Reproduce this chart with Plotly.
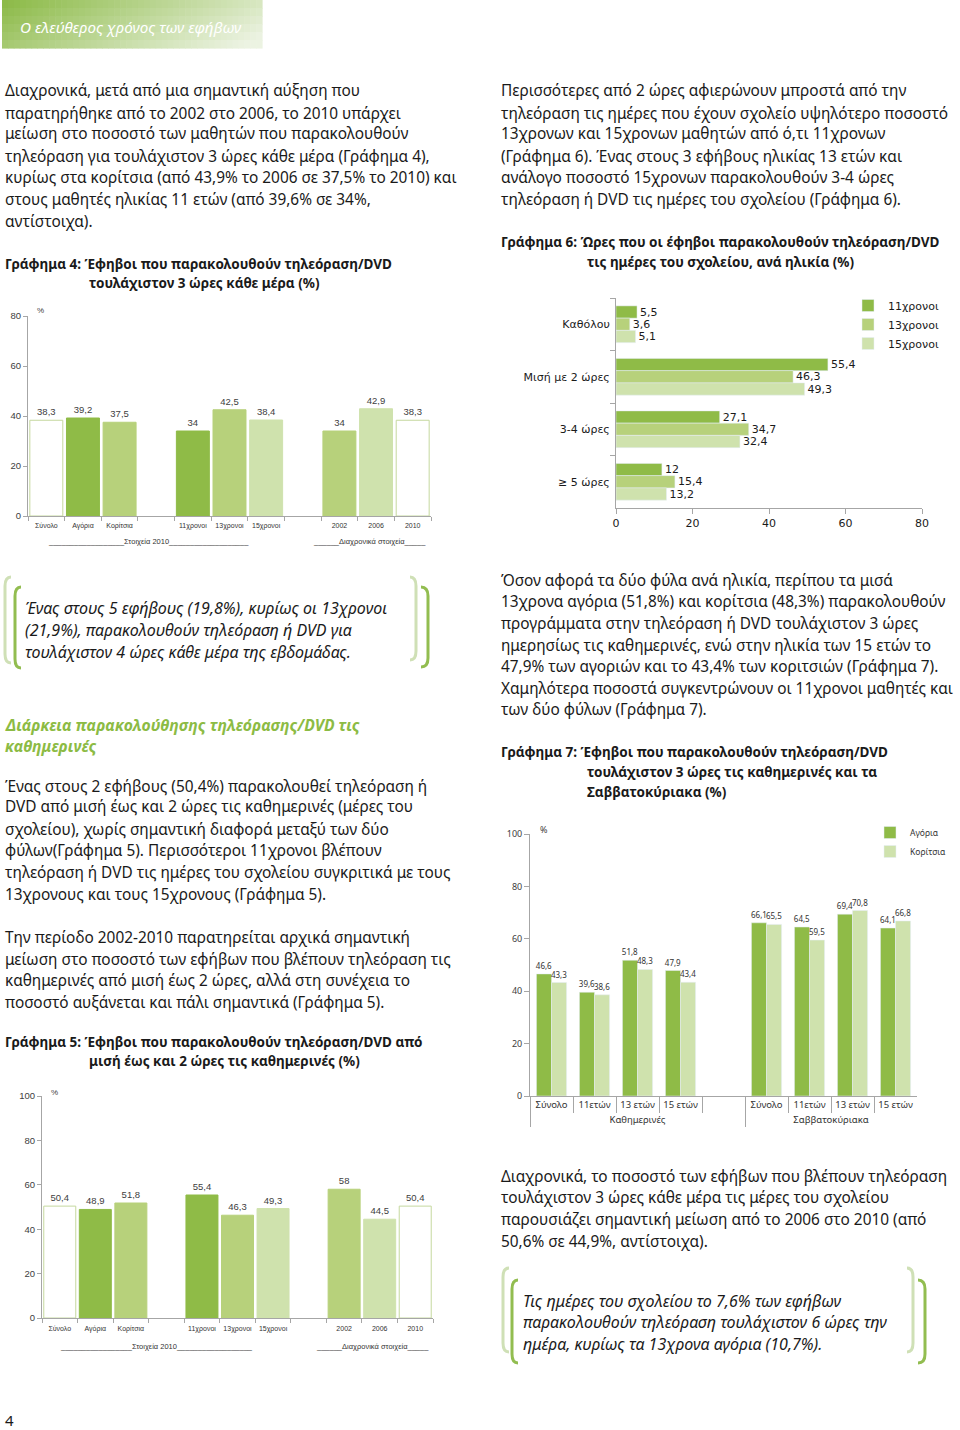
import plotly.graph_objects as go

W, H = 960, 1430


def X(px):
    return px / W


def Y(py):
    return 1 - py / H


# ---------------- DATA ----------------
c4_cats = ["Σύνολο", "Αγόρια", "Κορίτσια", " ", "11χρονοι", "13χρονοι", "15χρονοι", "  ", "2002", "2006", "2010"]
c4_vals = [38.3, 39.2, 37.5, None, 34, 42.5, 38.4, None, 34, 42.9, 38.3]

c5_cats = ["Σύνολο", "Αγόρια", "Κορίτσια", " ", "11χρονοι", "13χρονοι", "15χρονοι", "  ", "2002", "2006", "2010"]
c5_vals = [50.4, 48.9, 51.8, None, 55.4, 46.3, 49.3, None, 58, 44.5, 50.4]

c6_cats = ["Καθόλου", "Μισή με 2 ώρες", "3-4 ώρες", "≥ 5 ώρες"]
c6_series = ["11χρονοι", "13χρονοι", "15χρονοι"]
c6_11 = [5.5, 55.4, 27.1, 12]
c6_13 = [3.6, 46.3, 34.7, 15.4]
c6_15 = [5.1, 49.3, 32.4, 13.2]

c7_groups = ["Καθημερινές"] * 5 + ["Σαββατοκύριακα"] * 4
c7_cats = ["Σύνολο", "11ετών", "13 ετών", "15 ετών", " ", "Σύνολο", "11ετών", "13 ετών", "15 ετών"]
c7_boys = [46.6, 39.6, 51.8, 47.9, None, 66.1, 64.5, 69.4, 64.1]
c7_girls = [43.3, 38.6, 48.3, 43.4, None, 65.5, 59.5, 70.8, 66.8]

# ---------------- STYLE ----------------
G_DARK = "#8fbb47"
G_MID = "#b7d17b"
G_LIGHT = "#cfe2ad"
WHITE = "#ffffff"
EDGE = "#c5d89f"
AX = "#a6a6a6"
TXT = "#1a1a1a"
BODY = "Noto Sans"
ARIAL = "Liberation Sans"
VERD = "DejaVu Sans"
BODY_SIZE = 15.4


def fmt(v):
    return "" if v is None else f"{v:g}".replace(".", ",")


fill_pattern = [WHITE, G_DARK, G_MID, WHITE, G_DARK, G_MID, G_LIGHT, WHITE, G_MID, G_LIGHT, WHITE]
edge_pattern = [EDGE, G_DARK, G_MID, WHITE, G_DARK, G_MID, G_LIGHT, WHITE, G_MID, G_LIGHT, EDGE]

fig = go.Figure()

# Chart 4
fig.add_trace(go.Bar(
    x=c4_cats, y=c4_vals, xaxis="x", yaxis="y", width=0.9,
    marker=dict(color=fill_pattern, line=dict(color=edge_pattern, width=1)),
    text=[fmt(v) for v in c4_vals], textposition="outside", constraintext="none",
    textfont=dict(family=ARIAL, size=9.5, color="#404040"), cliponaxis=False,
    showlegend=False, hoverinfo="skip"))

# Chart 5
fig.add_trace(go.Bar(
    x=c5_cats, y=c5_vals, xaxis="x3", yaxis="y3", width=0.9,
    marker=dict(color=fill_pattern, line=dict(color=edge_pattern, width=1)),
    text=[fmt(v) for v in c5_vals], textposition="outside", constraintext="none",
    textfont=dict(family=ARIAL, size=9.5, color="#404040"), cliponaxis=False,
    showlegend=False, hoverinfo="skip"))

# Chart 6
for name, vals, col in zip(c6_series, [c6_11, c6_13, c6_15], [G_DARK, G_MID, G_LIGHT]):
    fig.add_trace(go.Bar(
        y=c6_cats, x=vals, orientation="h", xaxis="x2", yaxis="y2", name=name,
        marker=dict(color=col), legend="legend",
        text=[fmt(v) for v in vals], textposition="outside", constraintext="none",
        textfont=dict(family=VERD, size=11, color=TXT), cliponaxis=False, hoverinfo="skip"))

# Chart 7
for name, vals, col in zip(["Αγόρια", "Κορίτσια"], [c7_boys, c7_girls], [G_DARK, G_LIGHT]):
    fig.add_trace(go.Bar(
        x=[c7_groups, c7_cats], y=vals, xaxis="x4", yaxis="y4", name=name,
        marker=dict(color=col), legend="legend2",
        text=[fmt(v) for v in vals], textposition="outside", constraintext="none",
        textfont=dict(family=BODY, size=8, color="#333333"), cliponaxis=False, hoverinfo="skip"))

common_y = dict(showline=True, linecolor=AX, linewidth=1, ticks="outside", ticklen=4,
                tickcolor=AX, showgrid=False, zeroline=False, fixedrange=True, automargin=False)

fig.update_layout(
    width=W, height=H, autosize=False,
    margin=dict(l=0, r=0, t=0, b=0, pad=0, autoexpand=False),
    paper_bgcolor="white", plot_bgcolor="white",
    barmode="group", bargap=0.3, bargroupgap=0,
    xaxis=dict(domain=[X(28), X(431)], anchor="y", type="category",
               categoryorder="array", categoryarray=c4_cats, tickangle=0, ticklabelstandoff=3,
               showline=True, linecolor=AX, ticks="outside", tickson="boundaries", ticklen=4,
               tickcolor=AX, tickfont=dict(family=ARIAL, size=7, color="#333333"),
               showgrid=False, fixedrange=True, automargin=False),
    yaxis=dict(domain=[Y(516), Y(316)], anchor="x", range=[0, 80], tickvals=[0, 20, 40, 60, 80],
               tickfont=dict(family=ARIAL, size=9.5, color="#404040"), **common_y),
    xaxis3=dict(domain=[X(42), X(433)], anchor="y3", type="category",
                categoryorder="array", categoryarray=c5_cats, tickangle=0, ticklabelstandoff=4,
                showline=True, linecolor=AX, ticks="outside", tickson="boundaries", ticklen=4,
                tickcolor=AX, tickfont=dict(family=ARIAL, size=7, color="#333333"),
                showgrid=False, fixedrange=True, automargin=False),
    yaxis3=dict(domain=[Y(1318), Y(1096)], anchor="x3", range=[0, 100], tickvals=[0, 20, 40, 60, 80, 100],
                tickfont=dict(family=ARIAL, size=9.5, color="#404040"), **common_y),
    xaxis2=dict(domain=[X(616), X(922)], anchor="y2", range=[0, 80], tickvals=[0, 20, 40, 60, 80],
                showline=True, linecolor=AX, ticks="outside", ticklen=5, tickcolor=AX,
                tickfont=dict(family=VERD, size=11, color=TXT), showgrid=False, zeroline=False,
                fixedrange=True, automargin=False),
    yaxis2=dict(domain=[Y(508), Y(298)], anchor="x2", type="category",
                categoryorder="array", categoryarray=c6_cats, autorange="reversed",
                ticklabelstandoff=3,
                showline=True, linecolor=AX, ticks="outside", tickson="boundaries", ticklen=5,
                tickcolor=AX, tickfont=dict(family=VERD, size=11, color=TXT), showgrid=False,
                fixedrange=True, automargin=False),
    xaxis4=dict(domain=[X(530), X(917)], anchor="y4", type="multicategory",
                showline=True, linecolor=AX, ticks="outside", tickson="boundaries", ticklen=16,
                tickcolor=AX, dividercolor=AX, dividerwidth=1, tickangle=0,
                tickfont=dict(family=BODY, size=9.5, color="#333333"), showgrid=False,
                fixedrange=True, automargin=False),
    yaxis4=dict(domain=[Y(1096), Y(834)], anchor="x4", range=[0, 100], tickvals=[0, 20, 40, 60, 80, 100],
                tickfont=dict(family=BODY, size=9, color="#404040"),
                **{**common_y, "ticklen": 5}),
    legend=dict(x=X(848), y=Y(291), xanchor="left", yanchor="top", bgcolor="rgba(0,0,0,0)",
                font=dict(family=VERD, size=11, color=TXT), traceorder="normal", tracegroupgap=0),
    legend2=dict(x=X(870), y=Y(818), xanchor="left", yanchor="top", bgcolor="rgba(0,0,0,0)",
                 font=dict(family=BODY, size=8.5, color="#333333"), traceorder="normal", tracegroupgap=0),
)

ann = []
shapes = []


def txt(x, y, s, size=BODY_SIZE, color=TXT, family=BODY, weight="normal", style="normal", anchor="left"):
    ann.append(dict(x=X(x), y=Y(y), xref="paper", yref="paper", text=s, showarrow=False,
                    xanchor=anchor, yanchor="middle",
                    font=dict(family=family, size=size, color=color, weight=weight, style=style)))


def block(x, ys, lines, **kw):
    for yy, s in zip(ys, lines):
        txt(x, yy, s, **kw)


# Header gradient box
c0 = (138, 185, 68)
c1 = (236, 243, 226)
ncol, nrow = 44, 6
for i in range(ncol):
    for j in range(nrow):
        t = min(1.0, 0.78 * (i + 0.5) / ncol + 0.3 * (j + 0.5) / nrow)
        col = "rgb(%d,%d,%d)" % tuple(int(c0[k] + (c1[k] - c0[k]) * t) for k in range(3))
        shapes.append(dict(type="rect", xref="paper", yref="paper",
                           x0=X(2 + 260 * i / ncol), x1=X(2 + 260 * (i + 1) / ncol + 0.6),
                           y0=Y(48 * j / nrow), y1=Y(48 * (j + 1) / nrow + 0.6),
                           fillcolor=col, line=dict(width=0), layer="below"))
txt(18, 27, "Ο ελεύθερος χρόνος των εφήβων", size=15.2, color="white", style="italic")

# Left column paragraph 1
block(3, [91, 113, 134, 156, 178, 199, 221], [
    "Διαχρονικά, μετά από μια σημαντική αύξηση που",
    "παρατηρήθηκε από το 2002 στο 2006, το 2010 υπάρχει",
    "μείωση στο ποσοστό των μαθητών που παρακολουθούν",
    "τηλεόραση για τουλάχιστον 3 ώρες κάθε μέρα (Γράφημα 4),",
    "κυρίως στα κορίτσια (από 43,9% το 2006 σε 37,5% το 2010) και",
    "στους μαθητές ηλικίας 11 ετών (από 39,6% σε 34%,",
    "αντίστοιχα).",
])

# Chart 4 title
txt(3, 264, "Γράφημα 4: Έφηβοι που παρακολουθούν τηλεόραση/DVD", size=13.5, weight="bold")
txt(87, 283, "τουλάχιστον 3 ώρες κάθε μέρα (%)", size=13.5, weight="bold")
txt(35, 311, "%", size=8, color="#404040", family=ARIAL)
txt(148, 541, "_" * 18 + "Στοιχεία 2010" + "_" * 19, size=7.5, color="#333333", family=ARIAL, anchor="center")
txt(369, 541, "_" * 6 + "Διαχρονικά στοιχεία" + "_" * 5, size=7.5, color="#333333", family=ARIAL, anchor="center")

# Right column paragraph 1
block(499, [91, 113, 134, 156, 178, 199], [
    "Περισσότερες από 2 ώρες αφιερώνουν μπροστά από την",
    "τηλεόραση τις ημέρες που έχουν σχολείο υψηλότερο ποσοστό",
    "13χρονων και 15χρονων μαθητών από ό,τι 11χρονων",
    "(Γράφημα 6). Ένας στους 3 εφήβους ηλικίας 13 ετών και",
    "ανάλογο ποσοστό 15χρονων παρακολουθούν 3-4 ώρες",
    "τηλεόραση ή DVD τις ημέρες του σχολείου (Γράφημα 6).",
])
txt(499, 242, "Γράφημα 6: Ώρες που οι έφηβοι παρακολουθούν τηλεόραση/DVD", size=13.5, weight="bold")
txt(585, 262, "τις ημέρες του σχολείου, ανά ηλικία (%)", size=13.5, weight="bold")

# Callout 1
block(23, [608, 630, 652], [
    "Ένας στους 5 εφήβους (19,8%), κυρίως οι 13χρονοι",
    "(21,9%), παρακολουθούν τηλεόραση ή DVD για",
    "τουλάχιστον 4 ώρες κάθε μέρα της εβδομάδας.",
], size=16, style="italic")


def bracket(xv, xa, top, bot, color, width=3):
    r = 9
    path = (f"M {X(xa)},{Y(top)} Q {X(xv)},{Y(top)} {X(xv)},{Y(top + r)} "
            f"L {X(xv)},{Y(bot - r)} Q {X(xv)},{Y(bot)} {X(xa)},{Y(bot)}")
    shapes.append(dict(type="path", xref="paper", yref="paper", path=path,
                       line=dict(color=color, width=width)))


B_LIGHT = "#cfe0b6"
B_DARK = "#92bd50"
bracket(5, 11, 577, 663, B_LIGHT)
bracket(15, 21, 587, 668, B_DARK)
bracket(416, 410, 577, 660, B_LIGHT)
bracket(428, 421, 587, 667, B_DARK)

bracket(503, 509, 1268, 1352, B_LIGHT)
bracket(512, 518, 1280, 1363, B_DARK)
bracket(913, 907, 1268, 1352, B_LIGHT)
bracket(925, 918, 1280, 1363, B_DARK)

# Green heading
txt(3, 725, "Διάρκεια παρακολούθησης τηλεόρασης/DVD τις", size=15.7, color="#8cbb44",
    weight="bold", style="italic")
txt(3, 746, "καθημερινές", size=15.7, color="#8cbb44", weight="bold", style="italic")

block(3, [786, 807, 829, 851, 872, 894], [
    "Ένας στους 2 εφήβους (50,4%) παρακολουθεί τηλεόραση ή",
    "DVD από μισή έως και 2 ώρες τις καθημερινές (μέρες του",
    "σχολείου), χωρίς σημαντική διαφορά μεταξύ των δύο",
    "φύλων(Γράφημα 5). Περισσότεροι 11χρονοι βλέπουν",
    "τηλεόραση ή DVD τις ημέρες του σχολείου συγκριτικά με τους",
    "13χρονους και τους 15χρονους (Γράφημα 5).",
])
block(3, [937, 959, 980, 1002], [
    "Την περίοδο 2002-2010 παρατηρείται αρχικά σημαντική",
    "μείωση στο ποσοστό των εφήβων που βλέπουν τηλεόραση τις",
    "καθημερινές από μισή έως 2 ώρες, αλλά στη συνέχεια το",
    "ποσοστό αυξάνεται και πάλι σημαντικά (Γράφημα 5).",
])

# Chart 5 title
txt(3, 1042, "Γράφημα 5: Έφηβοι που παρακολουθούν τηλεόραση/DVD από", size=13.5, weight="bold")
txt(87, 1061, "μισή έως και 2 ώρες τις καθημερινές (%)", size=13.5, weight="bold")
txt(49, 1092, "%", size=8, color="#404040", family=ARIAL)
txt(156, 1346, "_" * 17 + "Στοιχεία 2010" + "_" * 18, size=7.5, color="#333333", family=ARIAL, anchor="center")
txt(372, 1346, "_" * 6 + "Διαχρονικά στοιχεία" + "_" * 5, size=7.5, color="#333333", family=ARIAL, anchor="center")

# Right column middle paragraph
block(499, [580, 601, 623, 645, 666, 688, 710], [
    "Όσον αφορά τα δύο φύλα ανά ηλικία, περίπου τα μισά",
    "13χρονα αγόρια (51,8%) και κορίτσια (48,3%) παρακολουθούν",
    "προγράμματα στην τηλεόραση ή DVD τουλάχιστον 3 ώρες",
    "ημερησίως τις καθημερινές, ενώ στην ηλικία των 15 ετών το",
    "47,9% των αγοριών και το 43,4% των κοριτσιών (Γράφημα 7).",
    "Χαμηλότερα ποσοστά συγκεντρώνουν οι 11χρονοι μαθητές και",
    "των δύο φύλων (Γράφημα 7).",
])
txt(499, 752, "Γράφημα 7: Έφηβοι που παρακολουθούν τηλεόραση/DVD", size=13.5, weight="bold")
txt(585, 772, "τουλάχιστον 3 ώρες τις καθημερινές και τα", size=13.5, weight="bold")
txt(585, 792, "Σαββατοκύριακα (%)", size=13.5, weight="bold")
txt(538, 829, "%", size=9, color="#404040")

# Right bottom
block(499, [1176, 1197, 1219, 1241], [
    "Διαχρονικά, το ποσοστό των εφήβων που βλέπουν τηλεόραση",
    "τουλάχιστον 3 ώρες κάθε μέρα τις μέρες του σχολείου",
    "παρουσιάζει σημαντική μείωση από το 2006 στο 2010 (από",
    "50,6% σε 44,9%, αντίστοιχα).",
])
block(521, [1301, 1322, 1344], [
    "Τις ημέρες του σχολείου το 7,6% των εφήβων",
    "παρακολουθούν τηλεόραση τουλάχιστον 6 ώρες την",
    "ημέρα, κυρίως τα 13χρονα αγόρια (10,7%).",
], size=16, style="italic")

txt(3, 1420, "4", size=15)

fig.update_layout(annotations=ann, shapes=shapes)
fig.write_html("out.html", config={"displayModeBar": False},
               post_script="document.body.style.margin='0';document.body.style.overflow='hidden';")
